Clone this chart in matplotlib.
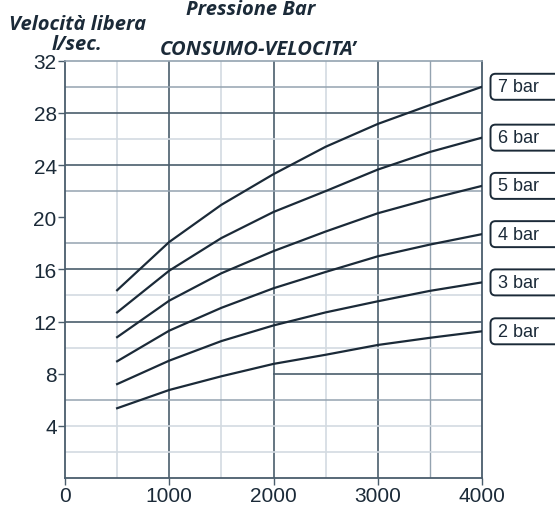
import numpy as np
from matplotlib import pyplot as plt
from matplotlib.patches import FancyBboxPatch

# data
flow = [500, 1000, 1500, 2000, 2500, 3000, 3500, 4000]
bar_labels = ['7 bar', '6 bar', '5 bar', '4 bar', '3 bar', '2 bar']
speed_7 = [14.4, 18.1, 20.95, 23.3, 25.4, 27.15, 28.6, 30.0]
speed_6 = [12.7, 15.9, 18.4, 20.4, 22.0, 23.65, 25.0, 26.1]
speed_5 = [10.8, 13.6, 15.7, 17.4, 18.9, 20.3, 21.4, 22.4]
speed_4 = [8.95, 11.3, 13.05, 14.55, 15.8, 17.0, 17.9, 18.7]
speed_3 = [7.2, 9.0, 10.5, 11.7, 12.7, 13.55, 14.35, 15.0]
speed_2 = [5.35, 6.75, 7.8, 8.75, 9.45, 10.2, 10.75, 11.25]
x_ticks = [0, 1000, 2000, 3000, 4000]
y_ticks = [4, 8, 12, 16, 20, 24, 28, 32]

series = [speed_7, speed_6, speed_5, speed_4, speed_3, speed_2]

ink = '#1b2a38'
dark = '#4a5d6c'
mid = '#94a3b0'
light = '#d3dae1'

fig = plt.figure(figsize=(5.55, 5.1), dpi=100)
ax = fig.add_axes([65/555, 31/510, 417/555, 417.3/510])
ax.set_xlim(0, 4000)
ax.set_ylim(0, 32)

# scanned-looking grid
for x in [500, 1500, 2500]:
    ax.axvline(x, color=light, lw=1.2, zorder=1)
ax.axvline(3500, color=mid, lw=1.0, zorder=1)
for x in [1000, 2000, 3000]:
    ax.axvline(x, color=dark, lw=1.2, zorder=1)
for y in [2, 4, 10, 14, 26]:
    ax.axhline(y, color=light, lw=1.2, zorder=1)
for y in [6, 18, 22, 30]:
    ax.axhline(y, color=mid, lw=1.1, zorder=1)
for y in [12, 16, 24, 28]:
    ax.axhline(y, color=dark, lw=1.2, zorder=1)
ax.plot([2000, 4000], [8, 8], color=dark, lw=1.2, zorder=1)

for s in series:
    ax.plot(flow, s, color=ink, lw=1.6, zorder=3)

# label boxes, running off the right edge like the scan
for lab, s in zip(bar_labels, series):
    ypx = ax.transData.transform((4000, s[-1]))[1] / 100.0
    box = FancyBboxPatch((4.905, ypx - 0.13), 0.9, 0.26,
                         boxstyle='round,pad=0,rounding_size=0.05',
                         transform=fig.dpi_scale_trans, fc='white', ec=ink,
                         lw=1.4, clip_on=False)
    fig.patches.append(box)
    fig.text(4.98, ypx, lab, transform=fig.dpi_scale_trans, ha='left',
             va='center', fontsize=13, family='Liberation Sans', color=ink)

ax.set_xticks(x_ticks)
ax.set_yticks(y_ticks)
ax.tick_params(direction='out', length=5, width=1.0, color=dark, pad=1,
               labelsize=15, labelcolor=ink)
for t in ax.get_xticklabels() + ax.get_yticklabels():
    t.set_family('Liberation Sans')
for side in ['left', 'bottom', 'right']:
    ax.spines[side].set_color(dark)
    ax.spines[side].set_linewidth(1.3)
ax.spines['top'].set_color(mid)
ax.spines['top'].set_linewidth(1.2)

tfont = dict(family='Open Sans', weight='bold', style='italic', color=ink, fontsize=14.5)
fig.text(251/555, 1 - 15/510, 'Pressione Bar', ha='center', va='baseline', **tfont)
fig.text(9/555, 1 - 30/510, 'Velocità libera', ha='left', va='baseline', **tfont)
fig.text(77/555, 1 - 50/510, 'l/sec.', ha='center', va='baseline', **tfont)
fig.text(160/555, 1 - 55/510, 'CONSUMO-VELOCITA\u2019', ha='left', va='baseline', **tfont)

fig.savefig('out.png', dpi=100)
